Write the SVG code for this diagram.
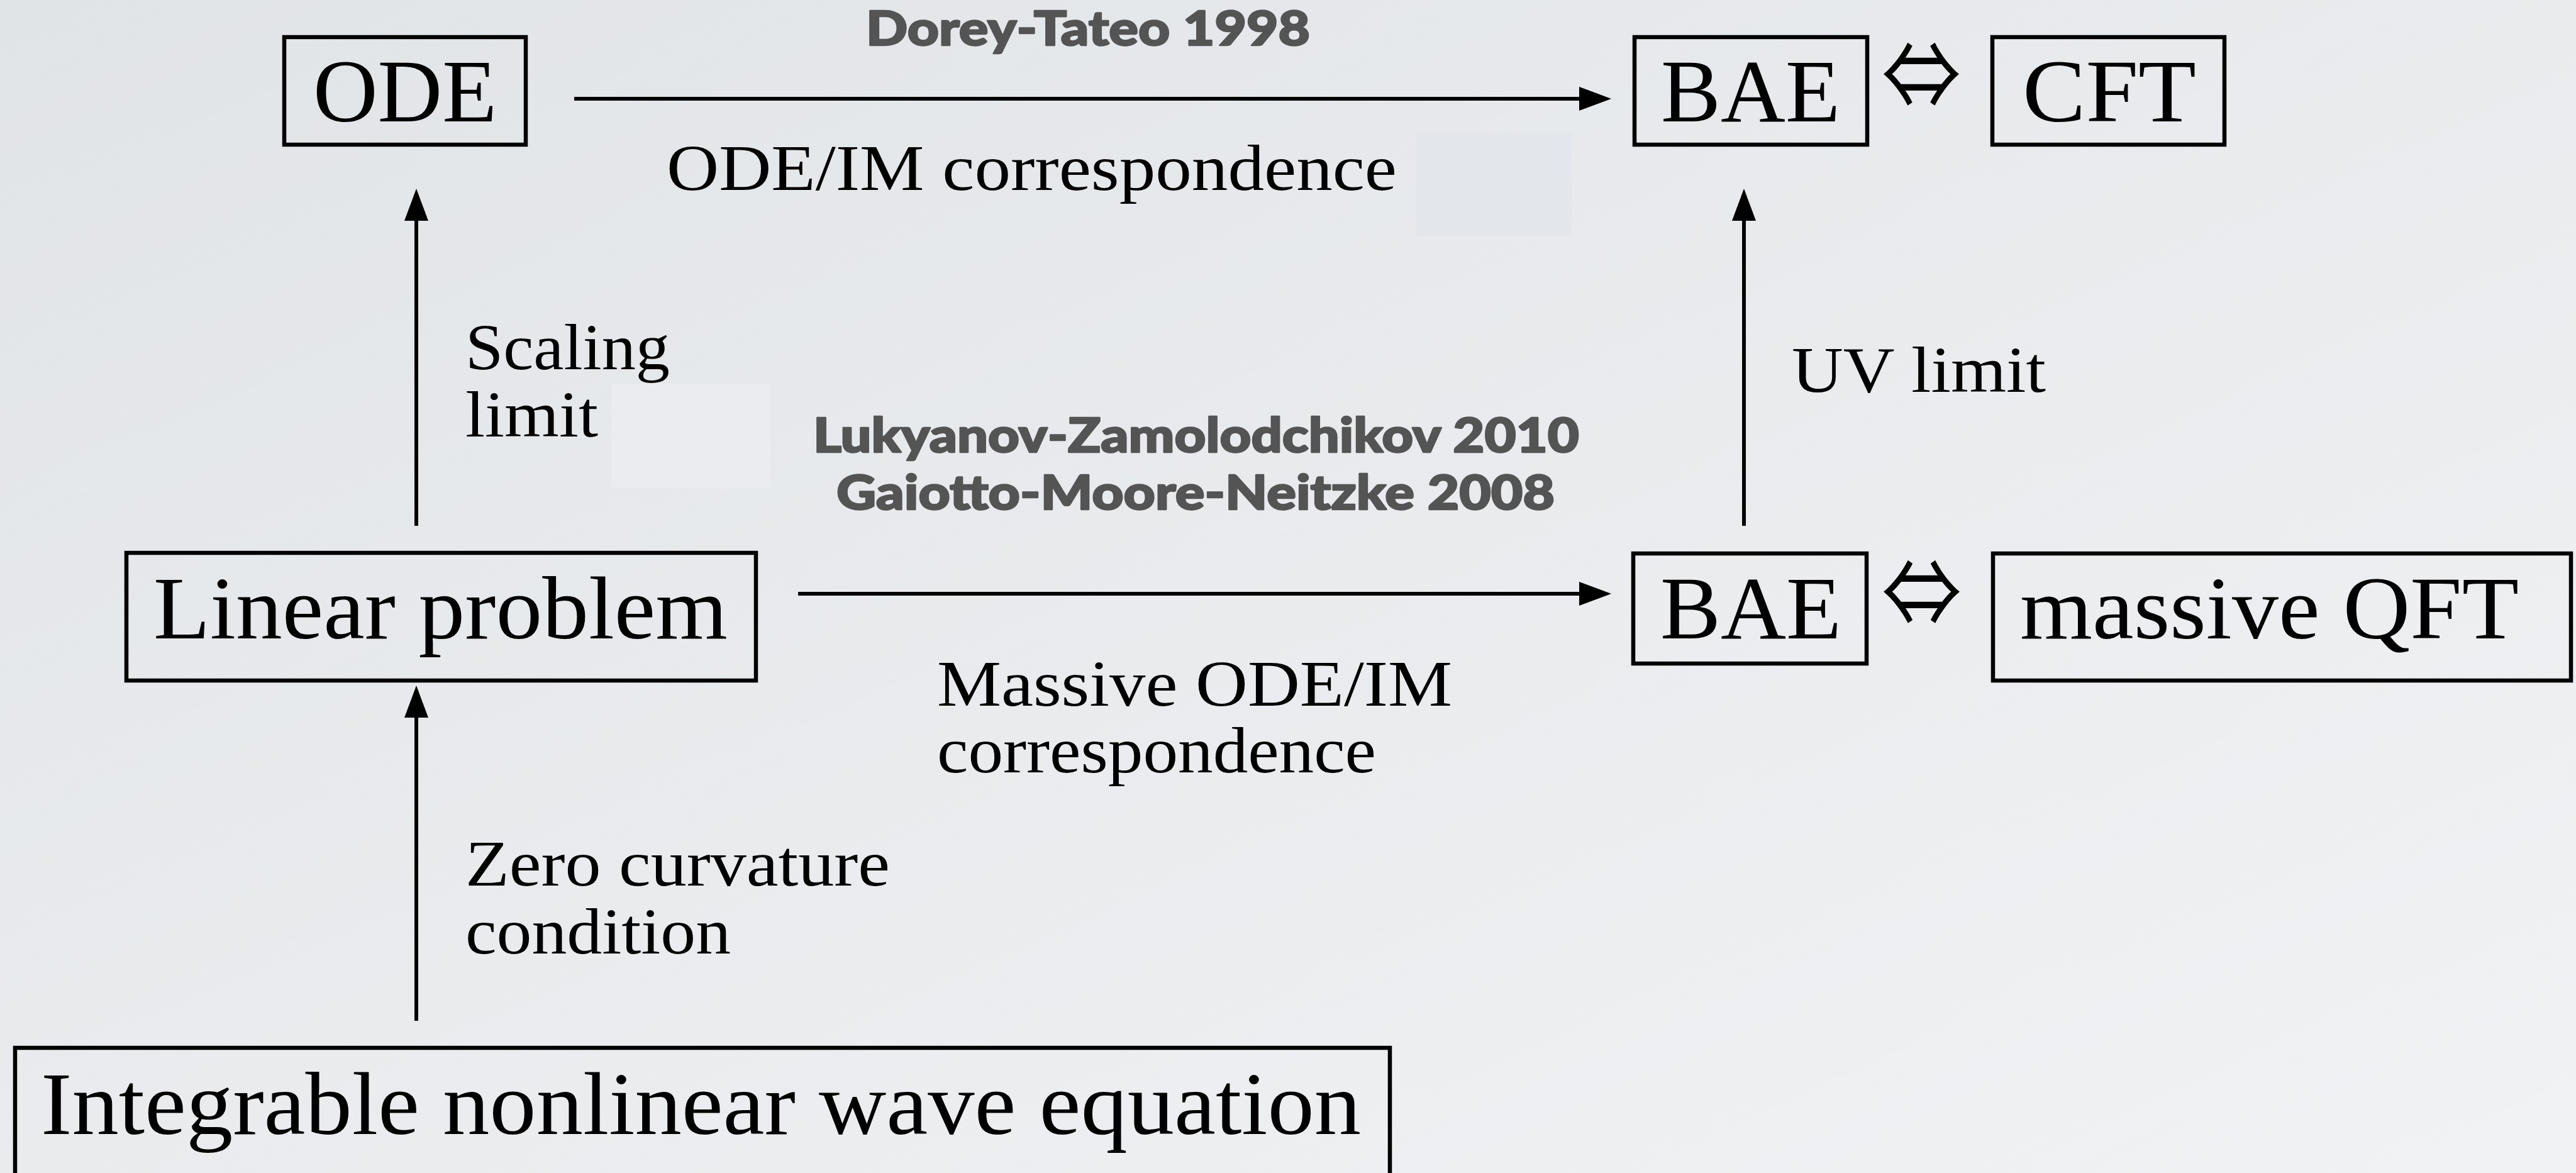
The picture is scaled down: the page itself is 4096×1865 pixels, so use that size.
<svg xmlns="http://www.w3.org/2000/svg" width="4096" height="1865" viewBox="0 0 4096 1865">
<defs>
<linearGradient id="bg" x1="0" y1="0" x2="1" y2="1">
<stop offset="0" stop-color="#e1e4e7"/>
<stop offset="1" stop-color="#f1f2f4"/>
</linearGradient>
<marker id="ah" markerUnits="userSpaceOnUse" markerWidth="52" markerHeight="38" viewBox="0 0 52 38" refX="3" refY="19" orient="auto">
<path d="M0,0 L51,19 L0,38 Z" fill="#000"/>
</marker>
<style>
.box{fill:none;stroke:#000;stroke-width:6.5}
.big{font-family:"Liberation Serif","Times New Roman",serif;font-size:141px;fill:#000}
.lab{font-family:"Liberation Serif","Times New Roman",serif;font-size:103px;fill:#000}
.ref{font-family:Lato,"Open Sans","Liberation Sans",sans-serif;font-weight:900;font-size:76px;fill:#545454;stroke:#545454;stroke-width:2.5;stroke-linejoin:round}
.sym{font-family:"Noto Sans CJK JP","DejaVu Serif",sans-serif;font-size:150px;fill:#000}
.conn{stroke:#000;stroke-width:6;fill:none;marker-end:url(#ah)}
</style>
</defs>
<rect x="0" y="0" width="4096" height="1865" fill="url(#bg)"/>
<rect x="2251" y="210" width="248" height="165" fill="#e3e6ea"/>
<rect x="972" y="610" width="253" height="165" fill="#eaecef"/>

<g id="connectors">
<line class="conn" x1="913" y1="157" x2="2514" y2="157"/>
<line class="conn" x1="1269" y1="944" x2="2514" y2="944"/>
<line class="conn" x1="662" y1="836" x2="662" y2="348"/>
<line class="conn" x1="662" y1="1623" x2="662" y2="1138"/>
<line class="conn" x1="2773" y1="836" x2="2773" y2="348"/>
</g>

<g id="node-ode">
<rect class="box" x="452" y="59" width="384" height="171"/>
<text class="big" x="498" y="193" textLength="292" lengthAdjust="spacingAndGlyphs">ODE</text>
</g>
<g id="node-bae-top">
<rect class="box" x="2599" y="59" width="370" height="171"/>
<text class="big" x="2641" y="193" textLength="285" lengthAdjust="spacingAndGlyphs">BAE</text>
</g>
<g id="node-cft">
<rect class="box" x="3168" y="59" width="369" height="171"/>
<text class="big" x="3216" y="193" textLength="276" lengthAdjust="spacingAndGlyphs">CFT</text>
</g>
<g id="node-linear">
<rect class="box" x="201" y="879" width="1001" height="203"/>
<text class="big" x="244" y="1015" textLength="913" lengthAdjust="spacingAndGlyphs">Linear problem</text>
</g>
<g id="node-bae-mid">
<rect class="box" x="2597" y="880" width="371" height="175"/>
<text class="big" x="2640" y="1015" textLength="288" lengthAdjust="spacingAndGlyphs">BAE</text>
</g>
<g id="node-qft">
<rect class="box" x="3169" y="880" width="919" height="202"/>
<text class="big" x="3212" y="1015" textLength="793" lengthAdjust="spacingAndGlyphs">massive QFT</text>
</g>
<g id="node-integrable">
<rect class="box" x="24" y="1666" width="2186" height="260"/>
<text class="big" x="65" y="1803" textLength="2099" lengthAdjust="spacingAndGlyphs">Integrable nonlinear wave equation</text>
</g>

<g id="symbols">
<text class="sym" x="2992" y="174" textLength="126" lengthAdjust="spacingAndGlyphs">⇔</text>
<text class="sym" x="2992" y="997" textLength="127" lengthAdjust="spacingAndGlyphs">⇔</text>
</g>

<g id="labels">
<text class="ref" x="1377" y="72" textLength="706" lengthAdjust="spacingAndGlyphs">Dorey-Tateo 1998</text>
<text class="lab" x="1060" y="302" textLength="1161" lengthAdjust="spacingAndGlyphs">ODE/IM correspondence</text>
<text class="lab" x="740" y="587" textLength="325" lengthAdjust="spacingAndGlyphs">Scaling</text>
<text class="lab" x="740" y="694" textLength="211" lengthAdjust="spacingAndGlyphs">limit</text>
<text class="lab" x="2849" y="623" textLength="404" lengthAdjust="spacingAndGlyphs">UV limit</text>
<text class="ref" x="1293" y="719" textLength="1218" lengthAdjust="spacingAndGlyphs">Lukyanov-Zamolodchikov 2010</text>
<text class="ref" x="1330" y="810" textLength="1142" lengthAdjust="spacingAndGlyphs">Gaiotto-Moore-Neitzke 2008</text>
<text class="lab" x="1490" y="1122" textLength="819" lengthAdjust="spacingAndGlyphs">Massive ODE/IM</text>
<text class="lab" x="1490" y="1228" textLength="698" lengthAdjust="spacingAndGlyphs">correspondence</text>
<text class="lab" x="740" y="1408" textLength="675" lengthAdjust="spacingAndGlyphs">Zero curvature</text>
<text class="lab" x="740" y="1516" textLength="422" lengthAdjust="spacingAndGlyphs">condition</text>
</g>
</svg>
